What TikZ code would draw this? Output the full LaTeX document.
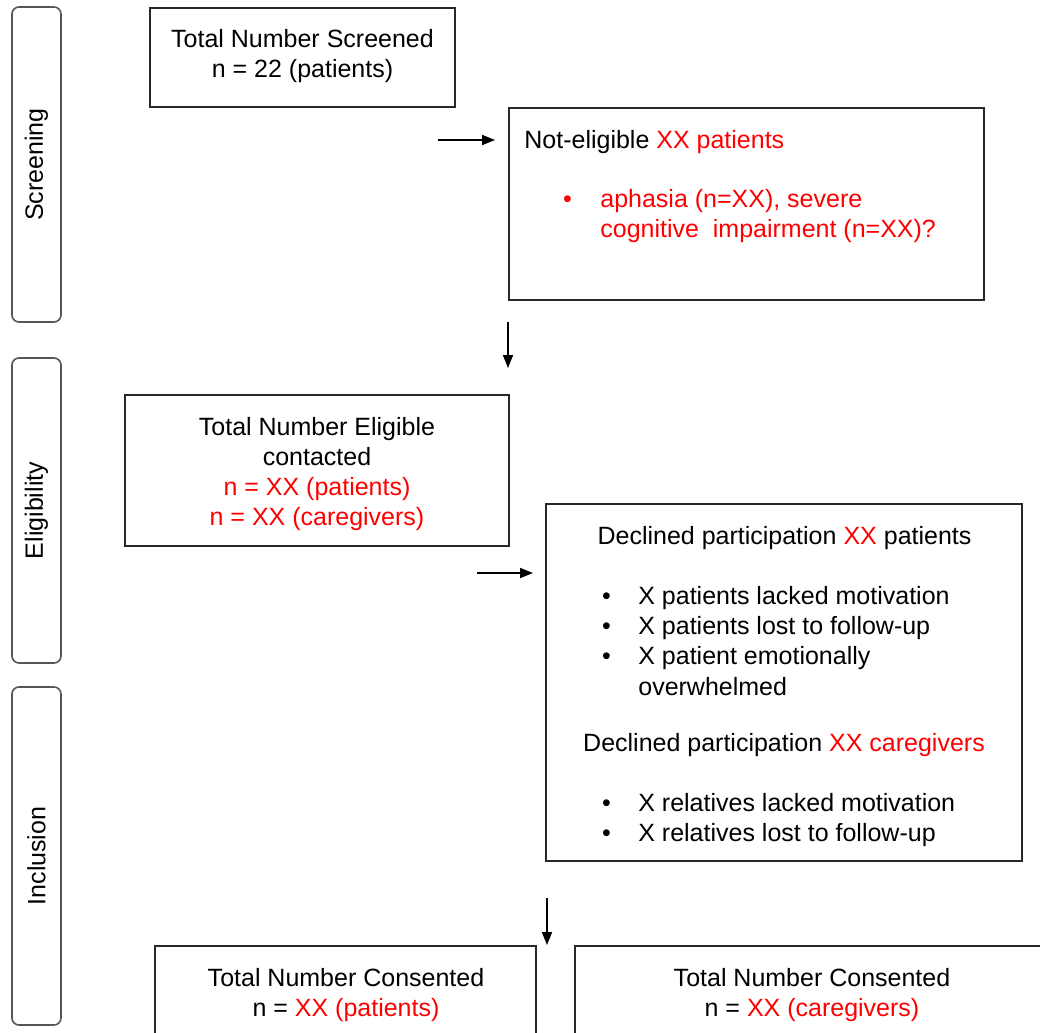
\documentclass[tikz,border=0pt]{standalone}
\usepackage{fontspec}
\setmainfont{Liberation Sans}
\usepackage{xcolor}
\usetikzlibrary{arrows.meta}

\definecolor{flowred}{RGB}{255,0,0}
\definecolor{boxline}{RGB}{40,40,40}
\definecolor{stageline}{RGB}{85,85,85}
\newcommand{\redtxt}[1]{\textcolor{flowred}{#1}}

\tikzset{
  box/.style={rectangle, draw=boxline, line width=0.8pt, inner sep=0pt},
  stage/.style={rectangle, rounded corners=3.5pt, draw=stageline, line width=0.8pt, minimum height=24.5pt},
  txt/.style={inner sep=0pt},
  arr/.style={-{Triangle[length=6.5pt,width=5pt]}, line width=0.9pt},
}

\begin{document}
\begin{tikzpicture}[x=0.5pt, y=-0.5pt, font=\fontsize{12.5}{15}\selectfont]
            \clip[use as bounding box] (0,0) rectangle (1040,1033);
            % stages
            \node[stage, rotate=90, minimum width=157.5pt] (screening) at (36.5,164.5) {Screening};
            \node[stage, rotate=90, minimum width=152.5pt] (eligibility) at (36.5,510.5) {Eligibility};
            \node[stage, rotate=90, minimum width=169pt] (inclusion) at (36.5,856) {Inclusion};
            % screening
            \node[box, minimum width=152.5pt, minimum height=49.5pt] (screened) at (302.5,57.5) {};
            \node[txt, anchor=north, align=center] (screenedtxt) at (302.5,28.5) {Total Number Screened\\n = 22 (patients)};
            \node[box, minimum width=237.5pt, minimum height=96pt] (noteligible) at (746.5,204) {};
            \node[txt, anchor=mid west] (noteligtitle) at (524,143) {Not-eligible \redtxt{XX patients}};
            \node[txt, anchor=north west, text=flowred] (noteliglist) at (562.6,186.5) {\begin{tabular}{@{}l@{\hspace{14.3pt}}l@{}}\textbullet & aphasia (n=XX), severe\\ & cognitive\ \ impairment (n=XX)?\end{tabular}};
            % eligibility
            \node[box, minimum width=192pt, minimum height=75.5pt] (eligible) at (317,470.5) {};
            \node[txt, align=center] (eligibletxt) at (317,474) {Total Number Eligible\\contacted\\\redtxt{n = XX (patients)}\\\redtxt{n = XX (caregivers)}};
            \node[box, minimum width=238pt, minimum height=178.5pt] (declined) at (784,682.5) {};
            \node[txt, anchor=mid] (declpattitle) at (784.5,539) {Declined participation \redtxt{XX} patients};
            \node[txt, anchor=north west, font=\fontsize{12.5}{15.2}\selectfont] (declpatlist) at (601.6,582.5) {\begin{tabular}{@{}l@{\hspace{13.8pt}}l@{}}\textbullet & X patients lacked motivation\\\textbullet & X patients lost to follow-up\\\textbullet & X patient emotionally\\ & overwhelmed\end{tabular}};
            \node[txt, anchor=mid] (declcaretitle) at (784,746) {Declined participation \redtxt{XX caregivers}};
            \node[txt, anchor=north west] (declcarelist) at (601.6,790.5) {\begin{tabular}{@{}l@{\hspace{13.8pt}}l@{}}\textbullet & X relatives lacked motivation\\\textbullet & X relatives lost to follow-up\end{tabular}};
            % inclusion
            \node[box, minimum width=190.5pt, minimum height=77pt] (consentpat) at (345.5,1023) {};
            \node[txt, anchor=north, align=center] (consentpattxt) at (346,967.5) {Total Number Consented\\n = \redtxt{XX (patients)}};
            \node[box, minimum width=237.5pt, minimum height=77pt] (consentcare) at (812.5,1023) {};
            \node[txt, anchor=north, align=center] (consentcaretxt) at (812,967.5) {Total Number Consented\\n = \redtxt{XX (caregivers)}};
            % arrows
            \coordinate (screenout) at (438,140);
            \coordinate (noteligin) at (495,140);
            \coordinate (screendown) at (508,322);
            \coordinate (eligin) at (508,368);
            \coordinate (eligout) at (477,573);
            \coordinate (declin) at (533,573);
            \coordinate (incldown) at (547,898);
            \coordinate (consentin) at (547,945);
            \draw[arr] (screenout) -- (noteligin);
            \draw[arr] (screendown) -- (eligin);
            \draw[arr] (eligout) -- (declin);
            \draw[arr] (incldown) -- (consentin);
        \end{tikzpicture}
\end{document}
